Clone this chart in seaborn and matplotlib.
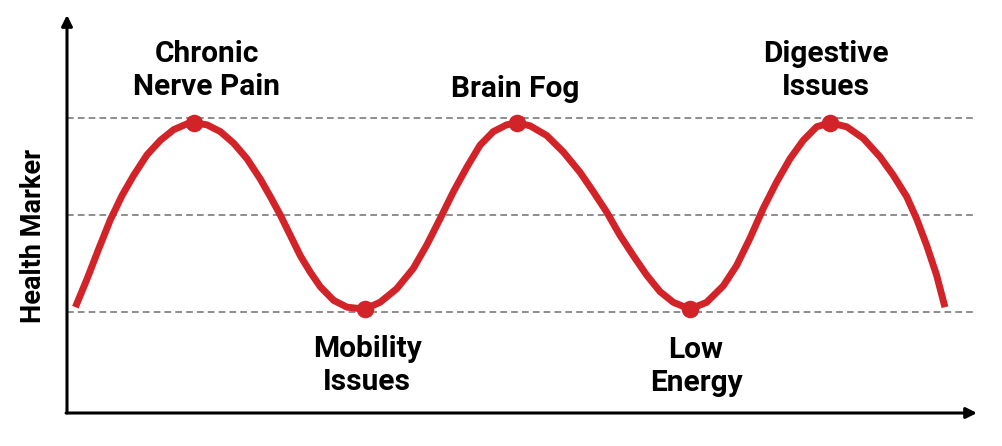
import matplotlib
matplotlib.use("Agg")
import matplotlib.pyplot as plt
import seaborn as sns
import pandas as pd

# Curve (x: time 0-100, y: health marker level)
curve_x = [0.92, 2.20, 3.48, 4.76, 6.04, 7.33, 8.79, 10.26, 11.72, 13.19,
           13.92, 15.38, 16.85, 18.32, 19.78, 21.25, 22.34, 23.44, 24.54, 25.64,
           26.74, 27.84, 29.30, 30.77, 32.70,
           34.40, 36.23, 38.06, 39.53, 40.99, 42.46, 43.92, 45.39, 46.85, 48.32,
           49.42, 50.88, 52.71, 54.54, 56.38, 57.84, 59.31, 60.77, 62.24, 63.70,
           65.17, 66.63, 68.46,
           70.29, 72.12, 73.59, 75.05, 76.52, 77.98, 79.45, 80.91, 82.38, 83.84,
           85.68, 87.51, 89.34, 90.80, 92.27, 93.37, 94.46, 95.56, 96.48]
curve_y = [0.05, 0.34, 0.65, 0.95, 1.20, 1.41, 1.62, 1.77, 1.88, 1.94,
           1.95, 1.93, 1.86, 1.74, 1.58, 1.37, 1.19, 1.00, 0.79, 0.58,
           0.41, 0.26, 0.12, 0.05, 0.03,
           0.10, 0.24, 0.45, 0.69, 0.96, 1.24, 1.49, 1.72, 1.86, 1.93,
           1.95, 1.92, 1.82, 1.65, 1.44, 1.24, 1.03, 0.79, 0.58, 0.38,
           0.21, 0.10, 0.03,
           0.10, 0.27, 0.48, 0.76, 1.07, 1.34, 1.58, 1.77, 1.91, 1.95,
           1.91, 1.79, 1.60, 1.41, 1.19, 0.96, 0.69, 0.38, 0.05]

# Key events (markers)
event_x = [13.92, 32.70, 49.42, 68.46, 83.84]
event_y = [1.95, 0.03, 1.95, 0.03, 1.95]
event_labels = ["Chronic\nNerve Pain", "Mobility\nIssues", "Brain Fog",
                "Low\nEnergy", "Digestive\nIssues"]
label_x = [15.38, 32.97, 49.23, 69.12, 83.41]
label_y = [2.49, -0.55, 2.30, -0.56, 2.49]

grid_levels = [0, 1, 2]
y_label = "Health Marker"

RED = "#D22428"

sns.set_theme(style="white")
plt.rcParams["font.family"] = ["Roboto", "DejaVu Sans"]

fig = plt.figure(figsize=(10.02, 4.46), dpi=100)
ax = fig.add_axes([67 / 1002, 33 / 446, 910 / 1002, 398 / 446])
ax.set_xlim(0, 100)
ax.set_ylim(-1.041, 3.062)

for lvl in grid_levels:
    ax.axhline(lvl, color="#7a7a7a", lw=1.2, linestyle=(0, (4, 2.5)), zorder=1)

df = pd.DataFrame({"x": curve_x, "y": curve_y})
sns.lineplot(data=df, x="x", y="y", sort=False, estimator=None, color=RED,
             lw=5.0, ax=ax, zorder=3, solid_capstyle="butt",
             solid_joinstyle="round")
ev = pd.DataFrame({"x": event_x, "y": event_y})
sns.scatterplot(data=ev, x="x", y="y", color=RED, s=160, linewidth=0,
                ax=ax, zorder=4)

for lx, ly, txt in zip(label_x, label_y, event_labels):
    ax.text(lx, ly, txt, ha="center", va="center", fontsize=21.5,
            fontweight="bold", color="black", linespacing=1.2)

for s in ax.spines.values():
    s.set_visible(False)
ax.set_xticks([])
ax.set_yticks([])
ax.set_xlabel("")
ax.set_ylabel(y_label, fontsize=19.5, fontweight="bold", color="black")
ax.yaxis.set_label_coords(-0.022, 0.445)

ax.annotate("", xy=(0, 1.0), xytext=(0, 0), xycoords="axes fraction",
            arrowprops=dict(arrowstyle="-|>", color="black", lw=2.2,
                            mutation_scale=16, shrinkA=0, shrinkB=0))
ax.annotate("", xy=(1.0, 0), xytext=(-0.001, 0), xycoords="axes fraction",
            arrowprops=dict(arrowstyle="-|>", color="black", lw=2.2,
                            mutation_scale=16, shrinkA=0, shrinkB=0))

fig.savefig("out.png", dpi=100)
